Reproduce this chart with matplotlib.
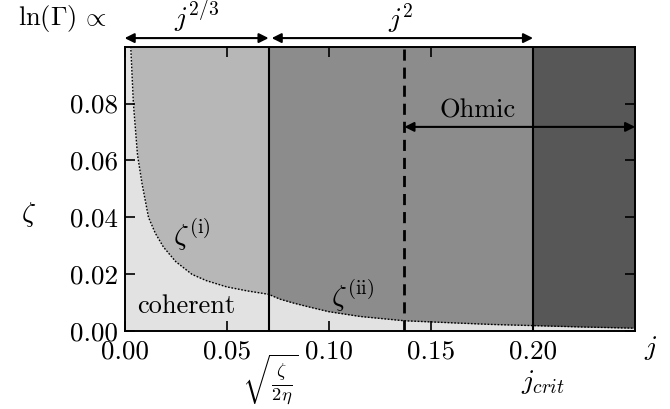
import numpy as np
from matplotlib import pyplot as plt

# dotted boundary curve (zeta^(i) left of j1, zeta^(ii) right of it)
j_curve = [0.003, 0.0043, 0.0063, 0.0085, 0.0117, 0.015, 0.019, 0.025, 0.033, 0.040,
           0.050, 0.060, 0.0705, 0.076, 0.0828, 0.090, 0.0999, 0.1154, 0.137, 0.163,
           0.180, 0.200, 0.225, 0.250]
zeta_curve = [0.100, 0.080, 0.062, 0.052, 0.040, 0.0345, 0.0296, 0.0245, 0.020, 0.0178,
              0.0156, 0.0142, 0.0130, 0.0113, 0.0099, 0.0086, 0.0069, 0.0052, 0.0037, 0.0029,
              0.0024, 0.0020, 0.0015, 0.0011]

# region boundaries in j
j_edges = [0.0, 0.0705, 0.2, 0.25]
region_colors = ['#b7b7b7', '#8c8c8c', '#575757']
j_ohmic = 0.137
j_max = 0.25
zeta_max = 0.1

xticks = [0.0, 0.05, 0.10, 0.15, 0.20]
yticks = [0.0, 0.02, 0.04, 0.06, 0.08]

plt.rcParams['font.family'] = 'serif'
plt.rcParams['font.serif'] = ['cmr10', 'DejaVu Serif']
plt.rcParams['mathtext.fontset'] = 'cm'
plt.rcParams['axes.formatter.use_mathtext'] = True

fig = plt.figure(figsize=(6.7, 4.09), dpi=100)
ax = fig.add_axes([0.186, 0.19, 0.762, 0.696])

# coloured regimes, then the coherent part below the curve
for i in range(len(region_colors)):
    ax.axvspan(j_edges[i], j_edges[i + 1], color=region_colors[i], lw=0, zorder=0)
ax.fill_between([0.0] + j_curve, 0, [zeta_max] + zeta_curve, color='#e2e2e2', lw=0, zorder=1)
ax.plot(j_curve, zeta_curve, color='k', ls=(0, (1.2, 1.2)), lw=1.0, zorder=3)

ax.axvline(j_edges[1], color='k', lw=1.5, zorder=4)
ax.axvline(j_edges[2], color='k', lw=1.5, zorder=4)
ax.axvline(j_ohmic, color='k', lw=2.0, ls=(0, (4, 2.5)), zorder=4)

ax.set_xlim(0, j_max)
ax.set_ylim(0, zeta_max)
ax.set_xticks(xticks)
ax.set_yticks(yticks)
ax.set_xticklabels(['%.2f' % t for t in xticks])
ax.set_yticklabels(['%.2f' % t for t in yticks])
ax.tick_params(direction='in', length=7, width=1.2, labelsize=19.5, top=True, right=True)
ax.tick_params(axis='x', pad=6)
ax.tick_params(axis='y', pad=5)
for s in ax.spines.values():
    s.set_linewidth(1.4)
    s.set_zorder(5)

# arrows above the axes
arrow = dict(arrowstyle='<|-|>', color='k', lw=1.5, mutation_scale=14, shrinkA=0, shrinkB=0)
ax.annotate('', xy=(0.0, 0.103), xytext=(j_edges[1], 0.103), arrowprops=arrow, annotation_clip=False)
ax.annotate('', xy=(j_edges[1] + 0.0015, 0.103), xytext=(j_edges[2], 0.103), arrowprops=arrow,
            annotation_clip=False)
ax.annotate('', xy=(j_ohmic, 0.0718), xytext=(j_max, 0.0718), arrowprops=arrow, zorder=6)

ax.text(j_edges[1] / 2, 0.104, r'$j^{2/3}$', ha='center', va='bottom', fontsize=20)
ax.text((j_edges[1] + j_edges[2]) / 2, 0.104, r'$j^{2}$', ha='center', va='bottom', fontsize=20)
fig.text(0.093, 0.955, r'$\ln(\Gamma)\,\propto$', ha='center', va='center', fontsize=19)

ax.text(0.1728, 0.0735, 'Ohmic', ha='center', va='bottom', fontsize=19)
ax.text(0.0327, 0.034, r'$\zeta^{(\mathrm{i})}$', ha='center', va='center', fontsize=21)
ax.text(0.1115, 0.0125, r'$\zeta^{(\mathrm{ii})}$', ha='center', va='center', fontsize=21)
ax.text(0.030, 0.0089, 'coherent', ha='center', va='center', fontsize=19)

ax.text(-0.189, 0.41, r'$\zeta$', transform=ax.transAxes, ha='center', va='center', fontsize=20)
ax.text(1.03, -0.058, r'$j$', transform=ax.transAxes, ha='center', va='center', fontsize=20)
ax.text(j_edges[1] + 0.001, -0.0172, r'$\sqrt{\frac{\zeta}{2\eta}}$', ha='center', va='center', fontsize=19)
ax.text(0.2047, -0.0178, r'$j_{crit}$', ha='center', va='center', fontsize=20)

plt.savefig('out.png', dpi=100)
